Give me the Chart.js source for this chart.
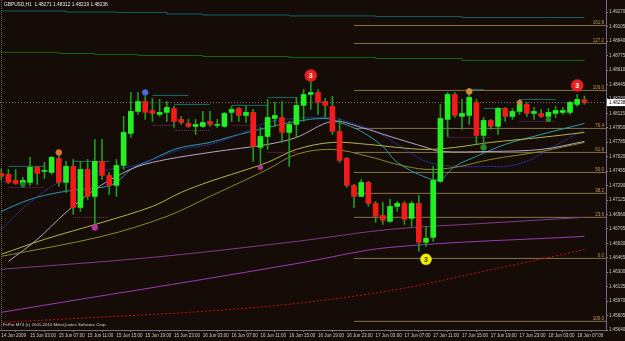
<!DOCTYPE html>
<html>
<head>
<meta charset="utf-8">
<script src="https://cdn.jsdelivr.net/npm/chart.js@4.4.1/dist/chart.umd.min.js"></script>
<style>
  html, body { margin: 0; padding: 0; background: #150c08; }
  #c { display: block; }
</style>
</head>
<body>
<canvas id="c" width="625" height="341"></canvas>
<script>
const titleText = 'GBPUSD,H1  1.48271 1.48312 1.48219 1.48238';
const copyText = 'FxPro MT4 (c) 2001-2010 MetaQuotes Software Corp.';
const bidPrice = 1.48238;

// H1 bars from 14 Jun 23:00, [open, high, low, close]
const candles = [
  [1.47429,1.47475,1.47360,1.47395],[1.47418,1.47475,1.47315,1.47326],[1.47349,1.47475,1.47303,1.47315],
  [1.47315,1.47383,1.47269,1.47349],[1.47326,1.47612,1.47292,1.47498],[1.47498,1.47509,1.47303,1.47429],
  [1.47452,1.47555,1.47372,1.47463],[1.47440,1.47623,1.47418,1.47612],[1.47600,1.47646,1.47281,1.47326],
  [1.47326,1.47566,1.47212,1.47509],[1.47509,1.47589,1.46961,1.47040],[1.47040,1.47566,1.46995,1.47475],
  [1.47475,1.47589,1.47132,1.47166],[1.47166,1.47817,1.46846,1.47566],[1.47566,1.47817,1.47360,1.47406],
  [1.47406,1.47440,1.47189,1.47292],[1.47292,1.47589,1.47166,1.47520],[1.47520,1.48080,1.47475,1.47897],
  [1.47886,1.48354,1.47840,1.48137],[1.48137,1.48354,1.48103,1.48251],[1.48251,1.48308,1.48046,1.48126],
  [1.48148,1.48285,1.48023,1.48114],[1.48103,1.48274,1.48080,1.48126],[1.48126,1.48251,1.48023,1.48183],
  [1.48171,1.48194,1.47954,1.48023],[1.48046,1.48080,1.47988,1.48011],[1.48000,1.48046,1.47954,1.47966],
  [1.47966,1.48046,1.47874,1.47988],[1.47966,1.48137,1.47954,1.48011],[1.48023,1.48137,1.47966,1.47988],
  [1.47977,1.48046,1.47954,1.47988],[1.47966,1.48126,1.47954,1.48114],[1.48126,1.48194,1.48023,1.48160],
  [1.48171,1.48183,1.48023,1.48091],[1.48091,1.48194,1.48011,1.48126],[1.48126,1.48160,1.47566,1.47737],
  [1.47726,1.47954,1.47509,1.47851],[1.47851,1.48274,1.47703,1.48068],[1.48057,1.48240,1.47966,1.48091],
  [1.48068,1.48251,1.47783,1.47897],[1.47897,1.48023,1.47509,1.47988],[1.47988,1.48297,1.47840,1.48206],
  [1.48206,1.48388,1.48023,1.48331],[1.48331,1.48480,1.48160,1.48354],[1.48354,1.48388,1.48103,1.48240],
  [1.48251,1.48285,1.48068,1.48206],[1.48194,1.48308,1.47874,1.47909],[1.47909,1.48046,1.47555,1.47577],
  [1.47600,1.47612,1.47269,1.47292],[1.47292,1.47303,1.47040,1.47166],[1.47166,1.47360,1.47166,1.47326],
  [1.47326,1.47338,1.47052,1.47086],[1.47086,1.47109,1.46869,1.46938],[1.46949,1.47098,1.46846,1.46892],
  [1.46881,1.47132,1.46869,1.47052],[1.47052,1.47109,1.46995,1.47086],[1.47086,1.47109,1.46846,1.46904],
  [1.46915,1.47109,1.46824,1.47086],[1.47086,1.47178,1.46538,1.46641],[1.46641,1.46824,1.46595,1.46687],
  [1.46698,1.47509,1.46652,1.47349],[1.47338,1.48217,1.47326,1.48057],[1.48046,1.48354,1.47851,1.48331],
  [1.48331,1.48354,1.48068,1.48091],[1.48080,1.48274,1.47931,1.48114],[1.48091,1.48400,1.47988,1.48297],
  [1.48240,1.48274,1.47760,1.47863],[1.47863,1.48068,1.47726,1.48034],[1.48034,1.48046,1.47931,1.47966],
  [1.47966,1.48183,1.47874,1.48171],[1.48171,1.48183,1.48023,1.48080],[1.48080,1.48171,1.48046,1.48137],
  [1.48137,1.48274,1.48103,1.48217],[1.48217,1.48240,1.48080,1.48114],[1.48114,1.48183,1.48046,1.48137],
  [1.48114,1.48160,1.48068,1.48080],[1.48080,1.48171,1.48023,1.48126],[1.48114,1.48194,1.48068,1.48148],
  [1.48126,1.48183,1.48103,1.48148],[1.48126,1.48251,1.48103,1.48240],[1.48217,1.48331,1.48194,1.48274],
  [1.48271,1.48312,1.48219,1.48238]
];

// one label every 4 bars
const timeTicks = ['14 Jun 2009','15 Jun 03:00','15 Jun 07:00','15 Jun 11:00','15 Jun 15:00','15 Jun 19:00',
  '15 Jun 23:00','16 Jun 03:00','16 Jun 07:00','16 Jun 11:00','16 Jun 15:00','16 Jun 19:00','16 Jun 23:00',
  '17 Jun 03:00','17 Jun 07:00','17 Jun 11:00','17 Jun 15:00','17 Jun 19:00','17 Jun 23:00','18 Jun 03:00','18 Jun 07:00'];

const priceTicks = [1.45640,1.45805,1.45970,1.46135,1.46300,1.46465,1.46630,1.46795,1.46960,1.47125,1.47290,
  1.47455,1.47620,1.47785,1.47950,1.48115,1.48280,1.48445,1.48610,1.48775,1.48940,1.49105,1.49270];

// moving averages, [bar, price]
const maTeal = [[0,1.46995],[4,1.47132],[8,1.47212],[11,1.47246],[14,1.47269],[16,1.47326],[18,1.47475],[21,1.47589],
  [23,1.47669],[25,1.47726],[29,1.47783],[32,1.47851],[37,1.47954],[41,1.48023],[45,1.48057],[47,1.48011],[50,1.47909],
  [53,1.47737],[55,1.47555],[59,1.47383],[61,1.47360],[63,1.47509],[66,1.47623],[70,1.47760],[75,1.47874],[81,1.48000]];
const maBlue = [[0,1.46790],[4,1.47098],[8,1.47326],[11,1.47395],[15,1.47475],[18,1.47509],[21,1.47589],[25,1.47703],
  [29,1.47760],[32,1.47840],[37,1.48011],[41,1.48057],[46,1.48068],[48,1.48023],[52,1.47909],[55,1.47760],[59,1.47566],
  [63,1.47509],[68,1.47509],[70,1.47509],[73,1.47566],[76,1.47703],[81,1.47931]];
const maGray = [[1,1.46424],[5,1.46675],[9,1.46984],[13,1.47246],[16,1.47395],[19,1.47509],[23,1.47589],[29,1.47669],
  [32,1.47703],[37,1.47760],[41,1.47840],[46,1.48023],[50,1.47954],[54,1.47851],[59,1.47726],[61,1.47680],[68,1.47680],
  [75,1.47703],[81,1.47794]];
const maOlive = [[0,1.46504],[6,1.46675],[14,1.46869],[21,1.47052],[25,1.47212],[29,1.47338],[32,1.47418],[37,1.47555],
  [41,1.47703],[46,1.47783],[51,1.47760],[55,1.47726],[59,1.47703],[63,1.47726],[68,1.47783],[75,1.47840],[81,1.47897]];
const maOlive2 = [[0,1.46481],[14,1.46710],[23,1.46938],[29,1.47166],[32,1.47281],[37,1.47475],[41,1.47646],[46,1.47703],
  [51,1.47623],[55,1.47532],[59,1.47475],[63,1.47498],[68,1.47589],[75,1.47680],[81,1.47783]];
const maPurple = [[0,1.46333],[21,1.46470],[41,1.46652],[54,1.46790],[67,1.46858],[81,1.46927]];
const maViolet = [[0,1.45842],[11,1.45991],[28,1.46218],[42,1.46413],[54,1.46584],[81,1.46710]];
const maRed = [[0,1.45727],[13,1.45784],[28,1.45853],[41,1.45944],[55,1.46104],[67,1.46310],[78,1.46504],[81,1.46561]];

// stepped bands at the top
const bandTop = [[0,1.49290],[9,1.49285],[16,1.49273],[23,1.49268],[28,1.49250],[40,1.49239],[52,1.49228],[64,1.49222],[76,1.49210],[81,1.49210]];
const bandMid = [[0,1.48828],[8,1.48813],[13,1.48799],[19,1.48788],[28,1.48776],[40,1.48765],[52,1.48754],[64,1.48742],[76,1.48720],[81,1.48720]];

// fibo levels, drawn from bar 49 to the right edge
const fibStart = 49;
const fibLabels = ['161.8','127.2','100.0','76.4','61.8','50.0','38.2','23.6','0.0','100.0'];
const fibPrices = [1.49119,1.48914,1.48377,1.47943,1.47669,1.47440,1.47201,1.46927,1.46458,1.45739];

// short fractal levels [fromBar, toBar, price, kind]
const levelSegs = [
  [1,6,1.47509,'t'],[1,6,1.47269,'p'],[10,15,1.47566,'t'],[10,15,1.46927,'p'],
  [21,26,1.48320,'t'],[21,24,1.47977,'p'],[24,29,1.48217,'t'],[24,29,1.47920,'p'],
  [32,37,1.48206,'t'],[32,35,1.47977,'p'],[37,41,1.48297,'t'],[37,41,1.47669,'p'],
  [65,67,1.48388,'t'],[67,70,1.48171,'t'],[62,68,1.47840,'p'],[72,77,1.48274,'t'],[72,77,1.48023,'p']
];

// signal markers
const markerBar = [3,8,13,20,36,43,59,65,67,72,76,80];
const markerPrice = [1.47303,1.47669,1.46812,1.48354,1.47498,1.48548,1.46447,1.48366,1.47726,1.48240,1.48046,1.48434];
const markerText = ['','','','','','3','3','','','','','3'];

const markerColors = ['#1f7a2a','#d8703c','#c0309a','#4a6ad8','#b03a8a','#e82020','#f0f000','#d88a3a','#2a8a2a','#d8803a','#2a8a2a','#e82020'];
const markerRadius = [2.5,3,3,3,2.5,6,5.5,3,3,2.5,2.5,6];

const FONT = '"Liberation Sans", Arial, sans-serif';
const BG = '#150c08';

function pts(arr) { return arr.map(p => ({ x: p[0], y: p[1] })); }
function lineDs(data, color, extra) {
  return Object.assign({
    type: 'line', data: pts(data), borderColor: color, borderWidth: 1,
    pointRadius: 0, tension: 0.35, fill: false, order: 6
  }, extra || {});
}

let datasets = [];
// top bands
datasets.push(lineDs(bandTop, '#0e6464', { stepped: 'after', tension: 0, order: 9 }));
datasets.push(lineDs(bandMid, '#136a13', { stepped: 'after', tension: 0, order: 9 }));
// fibo
fibPrices.forEach(p => {
  datasets.push(lineDs([[fibStart, p], [86, p]], '#86744a', { tension: 0, order: 9 }));
});
// bid line
datasets.push(lineDs([[-1, bidPrice], [86, bidPrice]], '#777777', { tension: 0, borderDash: [1, 2], order: 9 }));
// fractal segments
levelSegs.forEach(s => {
  datasets.push(lineDs([[s[0], s[2]], [s[1], s[2]]], s[3] === 't' ? '#176c6c' : '#7a2c78',
    { tension: 0, order: 8, borderDash: s[3] === 't' ? [] : [1, 1] }));
});
// moving averages
datasets.push(lineDs(maRed, '#c8101a', { borderDash: [2, 2] }));
datasets.push(lineDs(maViolet, '#9a3cb0'));
datasets.push(lineDs(maPurple, '#7e3a86'));
datasets.push(lineDs(maOlive2, '#8a8a2c'));
datasets.push(lineDs(maOlive, '#b4b44a'));
datasets.push(lineDs(maGray, '#b4a6c6'));
datasets.push(lineDs(maBlue, '#2a3ac0', { borderDash: [2, 1] }));
datasets.push(lineDs(maTeal, '#2a9cae'));

// candles: wick then body
datasets.push({
  type: 'bar', data: candles.map((c, i) => ({ x: i, y: [c[2], c[1]] })),
  backgroundColor: '#1f9a1f', barThickness: 1, grouped: false, order: 3
});
datasets.push({
  type: 'bar', data: candles.map((c, i) => ({ x: i, y: [c[0], c[3]] })),
  backgroundColor: ctx => {
    const c = candles[ctx.dataIndex];
    return c && c[3] >= c[0] ? '#22f022' : '#f01c1c';
  },
  barThickness: 5, grouped: false, minBarLength: 1, order: 2
});
// markers
datasets.push({
  type: 'scatter', data: markerBar.map((b, i) => ({ x: b, y: markerPrice[i] })),
  pointRadius: markerRadius, pointBackgroundColor: markerColors,
  pointBorderColor: markerColors.map(c => c), pointBorderWidth: 0.5, showLine: false, order: 1
});

const overlay = {
  id: 'overlay',
  beforeDraw(chart) {
    const ctx = chart.ctx;
    ctx.save();
    ctx.fillStyle = BG;
    ctx.fillRect(0, 0, chart.width, chart.height);
    ctx.restore();
  },
  afterDraw(chart) {
    const { ctx, chartArea, scales: { x, y } } = chart;
    ctx.save();
    // left border
    ctx.strokeStyle = '#6a6a6a';
    ctx.setLineDash([1, 1]);
    ctx.beginPath();
    ctx.moveTo(1.5, chartArea.top);
    ctx.lineTo(1.5, chartArea.bottom);
    ctx.stroke();
    ctx.setLineDash([]);
    // fibo labels
    ctx.font = '4.5px ' + FONT;
    ctx.fillStyle = '#c89a5a';
    ctx.textAlign = 'right';
    ctx.textBaseline = 'bottom';
    fibLabels.forEach((t, i) => ctx.fillText(t, chartArea.right - 2, y.getPixelForValue(fibPrices[i]) - 0.5));
    // numbers inside circles
    ctx.font = 'bold 7px ' + FONT;
    ctx.textAlign = 'center';
    ctx.textBaseline = 'middle';
    markerText.forEach((t, i) => {
      if (!t) return;
      ctx.fillStyle = markerColors[i] === '#f0f000' ? '#3a3a00' : '#ffffff';
      ctx.fillText(t, x.getPixelForValue(markerBar[i]), y.getPixelForValue(markerPrice[i]) + 0.5);
    });
    // header and copyright
    ctx.font = '4.8px ' + FONT;
    ctx.fillStyle = '#e8e8e8';
    ctx.textAlign = 'left';
    ctx.textBaseline = 'middle';
    ctx.fillText(titleText, 4, 5);
    ctx.fillStyle = '#d0d0d0';
    ctx.font = '4.3px ' + FONT;
    ctx.fillText(copyText, 3, 325);
    // bid price box
    const by = y.getPixelForValue(bidPrice);
    ctx.fillStyle = '#ffffff';
    ctx.fillRect(chartArea.right + 1, by - 3.5, 18, 7);
    ctx.fillStyle = '#000000';
    ctx.font = '4.5px ' + FONT;
    ctx.fillText(bidPrice.toFixed(5), chartArea.right + 3, by);
    ctx.restore();
  }
};

new Chart(document.getElementById('c'), {
  type: 'bar',
  data: { datasets },
  options: {
    responsive: false,
    animation: false,
    events: [],
    layout: { padding: 0, autoPadding: false },
    plugins: { legend: { display: false }, tooltip: { enabled: false }, title: { display: false } },
    scales: {
      x: {
        type: 'linear', min: -0.17, max: 84, offset: false,
        afterBuildTicks: s => { s.ticks = timeTicks.map((t, k) => ({ value: k * 4 })); },
        afterFit: s => { s.height = 11; s.paddingLeft = 0; s.paddingRight = 0; },
        ticks: {
          color: '#c8c8c8', font: { size: 4.5, family: FONT }, align: 'start',
          maxRotation: 0, autoSkip: false, padding: 1,
          callback: (v, i) => timeTicks[i]
        },
        grid: { drawOnChartArea: false, tickLength: 2, color: '#808080' },
        border: { color: '#70708a' }
      },
      y: {
        type: 'linear', position: 'right', min: 1.4564, max: 1.4941,
        afterBuildTicks: s => { s.ticks = priceTicks.map(v => ({ value: v })); },
        afterFit: s => { s.width = 19; s.paddingTop = 0; s.paddingBottom = 0; },
        ticks: {
          color: '#c8c8c8', font: { size: 4.5, family: FONT }, padding: 1,
          callback: v => v.toFixed(5)
        },
        grid: { drawOnChartArea: false, tickLength: 2, color: '#808080' },
        border: { color: '#70708a' }
      }
    }
  },
  plugins: [overlay]
});
</script>
</body>
</html>
